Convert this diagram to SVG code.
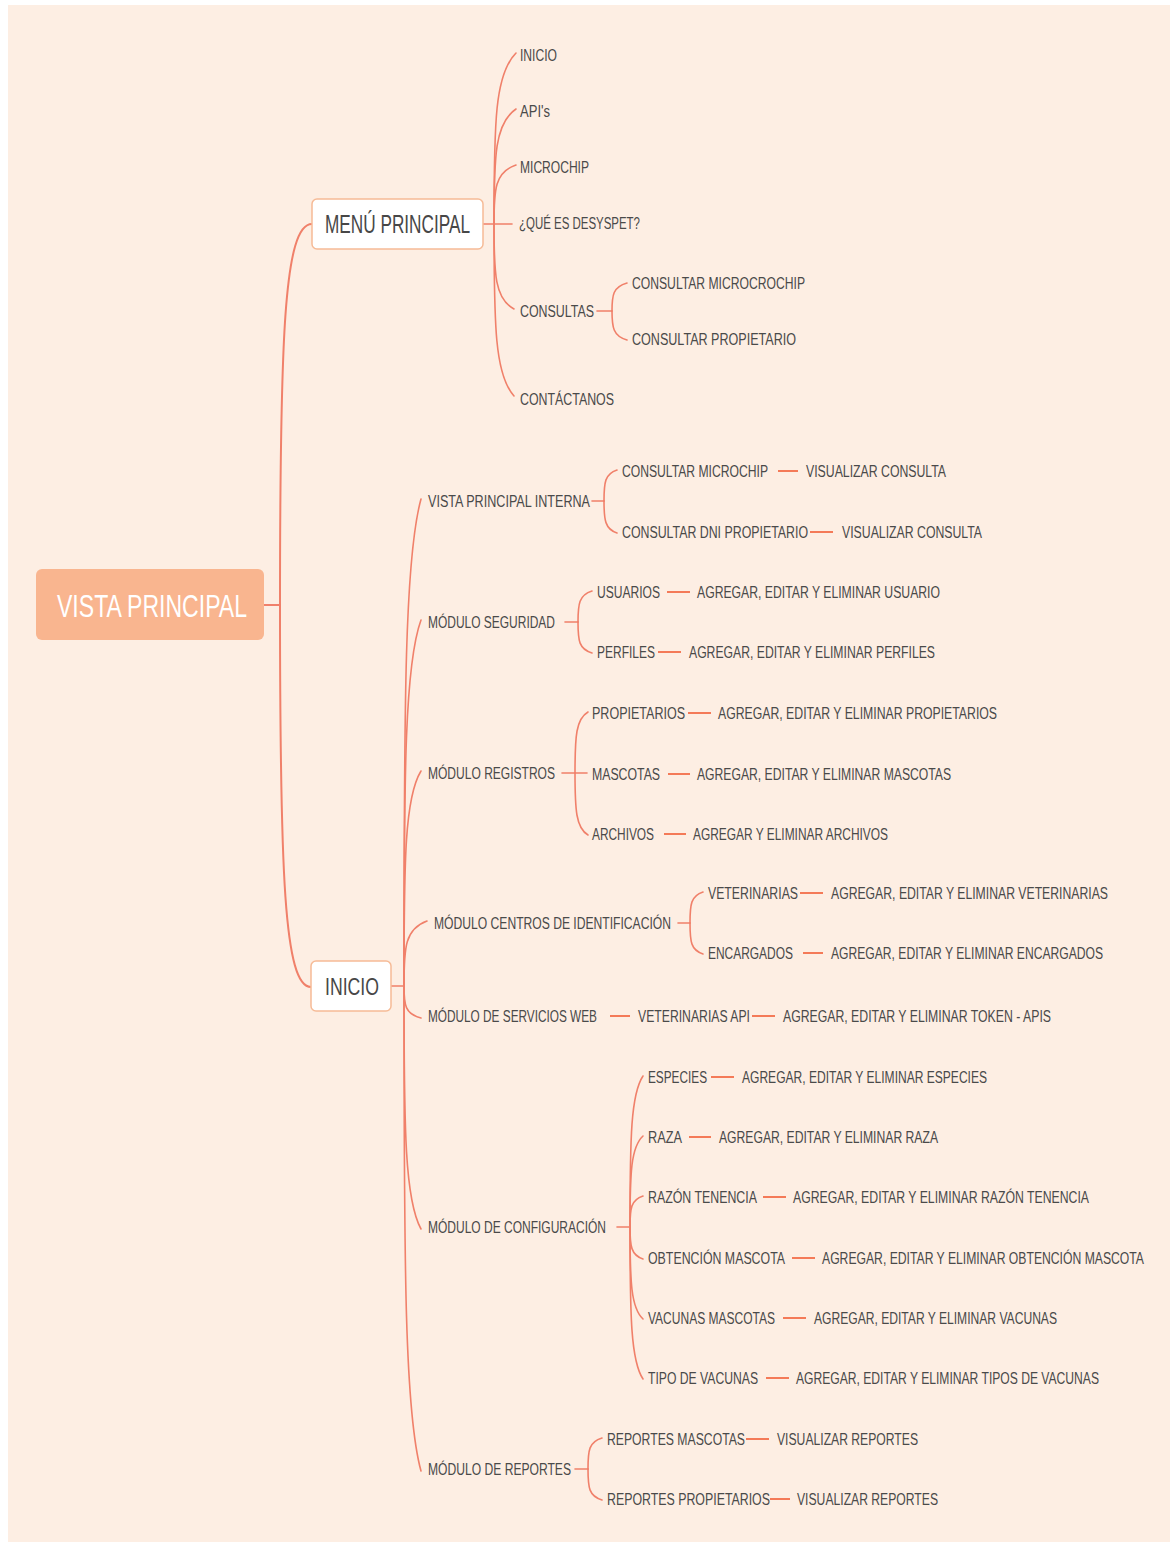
<svg xmlns="http://www.w3.org/2000/svg" width="1170" height="1542" viewBox="0 0 1170 1542">
<style>
.bg{fill:#fdeee3}
.root{fill:#f9b58f}
.box{fill:#ffffff;stroke:#f6bb97;stroke-width:1.5}
.t{font-family:"Liberation Sans",Arial,sans-serif;font-size:16px;fill:#4a4a4a}
.tb{font-family:"Liberation Sans",Arial,sans-serif;fill:#474747}
.tr{font-family:"Liberation Sans",Arial,sans-serif;font-size:32px;fill:#ffffff}
.c{fill:none;stroke:#f0806a;stroke-width:1.6;stroke-linecap:round}
.d{fill:none;stroke:#f47a58;stroke-width:2}
</style>
<rect x="0" y="0" width="1170" height="1542" fill="#ffffff"/>
<rect class="bg" x="8" y="5" width="1162" height="1537"/>

<g id="connectors">
<path class="c" style="stroke-width:2" d="M264,605 H280"/>
<path class="c" style="stroke-width:2" d="M280,605 C280,338 284,224 312,224"/>
<path class="c" style="stroke-width:2" d="M280,605 C280,872 284,987 311,987"/>

<path class="c" d="M483,224 H512"/>
<path class="c" d="M494,224 C494,121 495,74 516,53"/>
<path class="c" d="M494,224 C494,155 495,123 516,109"/>
<path class="c" d="M494,224 C494,189 495,172 516,165"/>
<path class="c" d="M494,224 C494,275 495,299 514,309"/>
<path class="c" d="M494,224 C494,327 495,375 514,396"/>

<path class="c" d="M597,311 H612"/>
<path class="c" d="M612,311 C612,295 613,287 627,283"/>
<path class="c" d="M612,311 C612,327 613,336 627,340"/>

<path class="c" d="M391,986 H404"/>
<path class="c" d="M404,986 C404,694 405,557 421,499"/>
<path class="c" d="M404,986 C404,766 405,664 421,620"/>
<path class="c" d="M404,986 C404,857 405,797 421,771"/>
<path class="c" d="M404,986 C404,947 405,929 427,921"/>
<path class="c" d="M404,986 C404,1005 405,1014 421,1018"/>
<path class="c" d="M404,986 C404,1132 405,1200 421,1229"/>
<path class="c" d="M404,986 C404,1277 405,1413 421,1471"/>

<path class="c" d="M592,501 H604"/>
<path class="c" d="M604,501 C604,482 605,474 617,470"/>
<path class="c" d="M604,501 C604,520 605,529 617,533"/>
<path class="d" d="M778,471 H798"/>
<path class="d" d="M810,532 H833"/>

<path class="c" d="M565,622 H578"/>
<path class="c" d="M578,622 C578,604 579,595 592,591"/>
<path class="c" d="M578,622 C578,641 579,649 592,653"/>
<path class="d" d="M667,592 H690"/>
<path class="d" d="M658,652 H681"/>

<path class="c" d="M562,773 H587"/>
<path class="c" d="M575,773 C575,736 576,719 588,712"/>
<path class="c" d="M575,773 C575,810 576,828 588,835"/>
<path class="d" d="M688,713 H711"/>
<path class="d" d="M668,774 H690"/>
<path class="d" d="M664,834 H686"/>

<path class="c" d="M678,923 H690"/>
<path class="c" d="M690,923 C690,904 691,896 703,892"/>
<path class="c" d="M690,923 C690,942 691,950 703,954"/>
<path class="d" d="M800,893 H823"/>
<path class="d" d="M803,953 H823"/>

<path class="d" d="M610,1016 H630"/>
<path class="d" d="M752,1016 H775"/>

<path class="c" d="M617,1227 H630"/>
<path class="c" d="M630,1227 C630,1136 631,1094 643,1076"/>
<path class="c" d="M630,1227 C630,1172 631,1147 643,1136"/>
<path class="c" d="M630,1227 C630,1208 631,1200 643,1196"/>
<path class="c" d="M630,1227 C630,1246 631,1255 643,1259"/>
<path class="c" d="M630,1227 C630,1282 631,1308 643,1319"/>
<path class="c" d="M630,1227 C630,1318 631,1361 643,1379"/>
<path class="d" d="M711,1077 H734"/>
<path class="d" d="M689,1137 H711"/>
<path class="d" d="M763,1197 H786"/>
<path class="d" d="M792,1258 H815"/>
<path class="d" d="M783,1318 H806"/>
<path class="d" d="M766,1378 H789"/>

<path class="c" d="M575,1469 H588"/>
<path class="c" d="M588,1469 C588,1450 589,1442 602,1438"/>
<path class="c" d="M588,1469 C588,1488 589,1496 602,1500"/>
<path class="d" d="M746,1439 H769"/>
<path class="d" d="M770,1499 H790"/>
</g>

<g id="vista-principal">
<rect class="root" x="36" y="569" width="228" height="71" rx="6"/>
<text class="tr" transform="translate(57,616.5) scale(0.65,1)" textLength="292.3" lengthAdjust="spacingAndGlyphs">VISTA PRINCIPAL</text>
</g>

<g id="menu-principal">
<rect class="box" x="312" y="199" width="171" height="50" rx="5"/>
<text class="tb" style="font-size:25px" transform="translate(325,233) scale(0.7,1)" textLength="207.1" lengthAdjust="spacingAndGlyphs">MENÚ PRINCIPAL</text>
</g>
<g id="menu-inicio"><text class="t" transform="translate(520,61) scale(0.75,1)" textLength="49.3" lengthAdjust="spacingAndGlyphs">INICIO</text></g>
<g id="menu-apis"><text class="t" transform="translate(520,117) scale(0.75,1)" textLength="40" lengthAdjust="spacingAndGlyphs">API's</text></g>
<g id="menu-microchip"><text class="t" transform="translate(520,173) scale(0.75,1)" textLength="92" lengthAdjust="spacingAndGlyphs">MICROCHIP</text></g>
<g id="menu-que-es"><text class="t" transform="translate(519,229) scale(0.75,1)" textLength="161.3" lengthAdjust="spacingAndGlyphs">¿QUÉ ES DESYSPET?</text></g>
<g id="menu-consultas"><text class="t" transform="translate(520,317) scale(0.75,1)" textLength="98.7" lengthAdjust="spacingAndGlyphs">CONSULTAS</text></g>
<g id="consultar-microcrochip"><text class="t" transform="translate(632,289) scale(0.75,1)" textLength="230.7" lengthAdjust="spacingAndGlyphs">CONSULTAR MICROCROCHIP</text></g>
<g id="consultar-propietario"><text class="t" transform="translate(632,345) scale(0.75,1)" textLength="218.7" lengthAdjust="spacingAndGlyphs">CONSULTAR PROPIETARIO</text></g>
<g id="menu-contactanos"><text class="t" transform="translate(520,405) scale(0.75,1)" textLength="125.3" lengthAdjust="spacingAndGlyphs">CONTÁCTANOS</text></g>

<g id="inicio">
<rect class="box" x="311" y="961" width="80" height="50" rx="5"/>
<text class="tb" style="font-size:24px" transform="translate(325,995) scale(0.75,1)" textLength="72" lengthAdjust="spacingAndGlyphs">INICIO</text>
</g>

<g id="vista-principal-interna"><text class="t" transform="translate(428,507) scale(0.75,1)" textLength="216" lengthAdjust="spacingAndGlyphs">VISTA PRINCIPAL INTERNA</text></g>
<g id="vpi-consultar-microchip"><text class="t" transform="translate(622,477) scale(0.75,1)" textLength="194.7" lengthAdjust="spacingAndGlyphs">CONSULTAR MICROCHIP</text></g>
<g id="vpi-visualizar-1"><text class="t" transform="translate(806,477) scale(0.75,1)" textLength="186.7" lengthAdjust="spacingAndGlyphs">VISUALIZAR CONSULTA</text></g>
<g id="vpi-consultar-dni"><text class="t" transform="translate(622,538) scale(0.75,1)" textLength="248" lengthAdjust="spacingAndGlyphs">CONSULTAR DNI PROPIETARIO</text></g>
<g id="vpi-visualizar-2"><text class="t" transform="translate(842,538) scale(0.75,1)" textLength="186.7" lengthAdjust="spacingAndGlyphs">VISUALIZAR CONSULTA</text></g>

<g id="modulo-seguridad"><text class="t" transform="translate(428,628) scale(0.75,1)" textLength="169.3" lengthAdjust="spacingAndGlyphs">MÓDULO SEGURIDAD</text></g>
<g id="usuarios"><text class="t" transform="translate(597,598) scale(0.75,1)" textLength="84" lengthAdjust="spacingAndGlyphs">USUARIOS</text></g>
<g id="usuarios-crud"><text class="t" transform="translate(697,598) scale(0.75,1)" textLength="324" lengthAdjust="spacingAndGlyphs">AGREGAR, EDITAR Y ELIMINAR USUARIO</text></g>
<g id="perfiles"><text class="t" transform="translate(597,658) scale(0.75,1)" textLength="77.3" lengthAdjust="spacingAndGlyphs">PERFILES</text></g>
<g id="perfiles-crud"><text class="t" transform="translate(689,658) scale(0.75,1)" textLength="328" lengthAdjust="spacingAndGlyphs">AGREGAR, EDITAR Y ELIMINAR PERFILES</text></g>

<g id="modulo-registros"><text class="t" transform="translate(428,779) scale(0.75,1)" textLength="169.3" lengthAdjust="spacingAndGlyphs">MÓDULO REGISTROS</text></g>
<g id="propietarios"><text class="t" transform="translate(592,719) scale(0.75,1)" textLength="124" lengthAdjust="spacingAndGlyphs">PROPIETARIOS</text></g>
<g id="propietarios-crud"><text class="t" transform="translate(718,719) scale(0.75,1)" textLength="372" lengthAdjust="spacingAndGlyphs">AGREGAR, EDITAR Y ELIMINAR PROPIETARIOS</text></g>
<g id="mascotas"><text class="t" transform="translate(592,780) scale(0.75,1)" textLength="90.7" lengthAdjust="spacingAndGlyphs">MASCOTAS</text></g>
<g id="mascotas-crud"><text class="t" transform="translate(697,780) scale(0.75,1)" textLength="338.7" lengthAdjust="spacingAndGlyphs">AGREGAR, EDITAR Y ELIMINAR MASCOTAS</text></g>
<g id="archivos"><text class="t" transform="translate(592,840) scale(0.75,1)" textLength="82.7" lengthAdjust="spacingAndGlyphs">ARCHIVOS</text></g>
<g id="archivos-crud"><text class="t" transform="translate(693,840) scale(0.75,1)" textLength="260" lengthAdjust="spacingAndGlyphs">AGREGAR Y ELIMINAR ARCHIVOS</text></g>

<g id="modulo-centros"><text class="t" transform="translate(434,929) scale(0.75,1)" textLength="316" lengthAdjust="spacingAndGlyphs">MÓDULO CENTROS DE IDENTIFICACIÓN</text></g>
<g id="veterinarias"><text class="t" transform="translate(708,899) scale(0.75,1)" textLength="120" lengthAdjust="spacingAndGlyphs">VETERINARIAS</text></g>
<g id="veterinarias-crud"><text class="t" transform="translate(831,899) scale(0.75,1)" textLength="369.3" lengthAdjust="spacingAndGlyphs">AGREGAR, EDITAR Y ELIMINAR VETERINARIAS</text></g>
<g id="encargados"><text class="t" transform="translate(708,959) scale(0.75,1)" textLength="113.3" lengthAdjust="spacingAndGlyphs">ENCARGADOS</text></g>
<g id="encargados-crud"><text class="t" transform="translate(831,959) scale(0.75,1)" textLength="362.7" lengthAdjust="spacingAndGlyphs">AGREGAR, EDITAR Y ELIMINAR ENCARGADOS</text></g>

<g id="modulo-servicios-web"><text class="t" transform="translate(428,1022) scale(0.75,1)" textLength="225.3" lengthAdjust="spacingAndGlyphs">MÓDULO DE SERVICIOS WEB</text></g>
<g id="veterinarias-api"><text class="t" transform="translate(638,1022) scale(0.75,1)" textLength="149.3" lengthAdjust="spacingAndGlyphs">VETERINARIAS API</text></g>
<g id="token-crud"><text class="t" transform="translate(783,1022) scale(0.75,1)" textLength="357.3" lengthAdjust="spacingAndGlyphs">AGREGAR, EDITAR Y ELIMINAR TOKEN - APIS</text></g>

<g id="modulo-configuracion"><text class="t" transform="translate(428,1233) scale(0.75,1)" textLength="237.3" lengthAdjust="spacingAndGlyphs">MÓDULO DE CONFIGURACIÓN</text></g>
<g id="especies"><text class="t" transform="translate(648,1083) scale(0.75,1)" textLength="78.7" lengthAdjust="spacingAndGlyphs">ESPECIES</text></g>
<g id="especies-crud"><text class="t" transform="translate(742,1083) scale(0.75,1)" textLength="326.7" lengthAdjust="spacingAndGlyphs">AGREGAR, EDITAR Y ELIMINAR ESPECIES</text></g>
<g id="raza"><text class="t" transform="translate(648,1143) scale(0.75,1)" textLength="45.3" lengthAdjust="spacingAndGlyphs">RAZA</text></g>
<g id="raza-crud"><text class="t" transform="translate(719,1143) scale(0.75,1)" textLength="292" lengthAdjust="spacingAndGlyphs">AGREGAR, EDITAR Y ELIMINAR RAZA</text></g>
<g id="razon-tenencia"><text class="t" transform="translate(648,1203) scale(0.75,1)" textLength="145.3" lengthAdjust="spacingAndGlyphs">RAZÓN TENENCIA</text></g>
<g id="razon-tenencia-crud"><text class="t" transform="translate(793,1203) scale(0.75,1)" textLength="394.7" lengthAdjust="spacingAndGlyphs">AGREGAR, EDITAR Y ELIMINAR RAZÓN TENENCIA</text></g>
<g id="obtencion-mascota"><text class="t" transform="translate(648,1264) scale(0.75,1)" textLength="182.7" lengthAdjust="spacingAndGlyphs">OBTENCIÓN MASCOTA</text></g>
<g id="obtencion-mascota-crud"><text class="t" transform="translate(822,1264) scale(0.75,1)" textLength="429.3" lengthAdjust="spacingAndGlyphs">AGREGAR, EDITAR Y ELIMINAR OBTENCIÓN MASCOTA</text></g>
<g id="vacunas-mascotas"><text class="t" transform="translate(648,1324) scale(0.75,1)" textLength="169.3" lengthAdjust="spacingAndGlyphs">VACUNAS MASCOTAS</text></g>
<g id="vacunas-crud"><text class="t" transform="translate(814,1324) scale(0.75,1)" textLength="324" lengthAdjust="spacingAndGlyphs">AGREGAR, EDITAR Y ELIMINAR VACUNAS</text></g>
<g id="tipo-vacunas"><text class="t" transform="translate(648,1384) scale(0.75,1)" textLength="146.7" lengthAdjust="spacingAndGlyphs">TIPO DE VACUNAS</text></g>
<g id="tipo-vacunas-crud"><text class="t" transform="translate(796,1384) scale(0.75,1)" textLength="404" lengthAdjust="spacingAndGlyphs">AGREGAR, EDITAR Y ELIMINAR TIPOS DE VACUNAS</text></g>

<g id="modulo-reportes"><text class="t" transform="translate(428,1475) scale(0.75,1)" textLength="190.7" lengthAdjust="spacingAndGlyphs">MÓDULO DE REPORTES</text></g>
<g id="reportes-mascotas"><text class="t" transform="translate(607,1445) scale(0.75,1)" textLength="184" lengthAdjust="spacingAndGlyphs">REPORTES MASCOTAS</text></g>
<g id="reportes-mascotas-ver"><text class="t" transform="translate(777,1445) scale(0.75,1)" textLength="188" lengthAdjust="spacingAndGlyphs">VISUALIZAR REPORTES</text></g>
<g id="reportes-propietarios"><text class="t" transform="translate(607,1505) scale(0.75,1)" textLength="217.3" lengthAdjust="spacingAndGlyphs">REPORTES PROPIETARIOS</text></g>
<g id="reportes-propietarios-ver"><text class="t" transform="translate(797,1505) scale(0.75,1)" textLength="188" lengthAdjust="spacingAndGlyphs">VISUALIZAR REPORTES</text></g>
</svg>
